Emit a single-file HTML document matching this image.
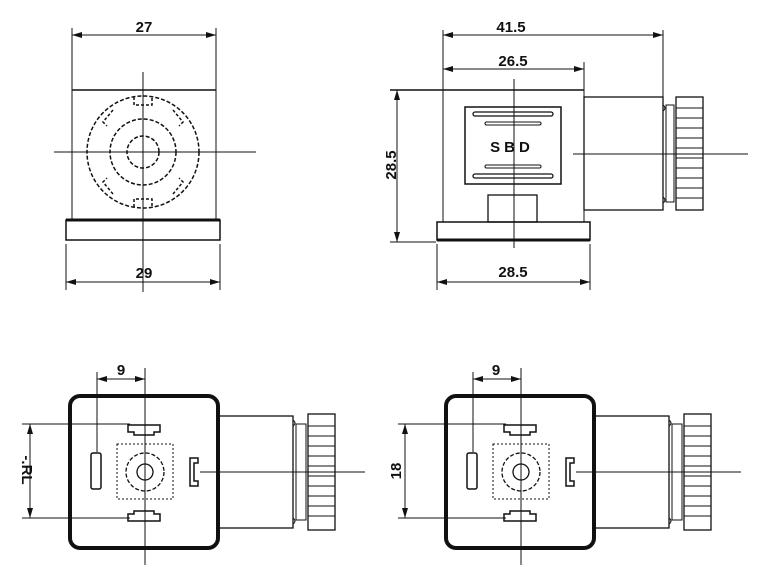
<!DOCTYPE html>
<html><head><meta charset="utf-8"><style>html,body{margin:0;padding:0;background:#fff}svg{display:block}</style></head><body>
<svg width="760" height="573" viewBox="0 0 760 573" xmlns="http://www.w3.org/2000/svg" font-family="Liberation Sans, sans-serif" font-weight="bold" fill="none" stroke="#111">
<defs>
<marker id="a" viewBox="0 0 10 6" refX="10" refY="3" markerWidth="10" markerHeight="6" orient="auto-start-reverse" markerUnits="userSpaceOnUse"><path d="M0,0 L10,3 L0,6z" fill="#111" stroke="none"/></marker>
<g id="bot">
  <rect x="70" y="396" width="148" height="152" rx="10" stroke-width="4"/>
  <rect x="218" y="416" width="75" height="112" stroke-width="1.3"/>
  <path d="M293,420 q4,3 0,6 M293,518 q4,3 0,6" stroke-width="1"/>
  <rect x="296" y="424" width="10" height="96" stroke-width="1"/>
  <rect x="308" y="414" width="27" height="116" stroke-width="1.3"/>
  <path d="M308,426h27M308,436h27M308,446h27M308,456h27M308,466h27M308,476h27M308,486h27M308,496h27M308,506h27M308,516h27" stroke-width="1"/>
  <line x1="200" y1="472" x2="365" y2="472" stroke-width="1"/>
  <line x1="145" y1="368" x2="145" y2="565" stroke-width="1"/>
  <line x1="97" y1="372" x2="97" y2="452" stroke-width="1"/>
  <line x1="97" y1="379" x2="145" y2="379" stroke-width="1" marker-start="url(#a)" marker-end="url(#a)"/>
  <rect x="91" y="453" width="10" height="36" rx="2" stroke-width="1.5"/>
  <path d="M128,425 h32 v7 h-6 v3 h-20 v-3 h-6z" stroke-width="1.5"/>
  <path d="M128,521 h32 v-7 h-6 v-3 h-20 v3 h-6z" stroke-width="1.5"/>
  <path d="M190,458 v28 h8 v-5 h-4 v-18 h4 v-5z" stroke-width="1.5"/>
  <rect x="117" y="444" width="56" height="55" stroke-width="1" stroke-dasharray="2,2"/>
  <circle cx="145" cy="472" r="19" stroke-width="1.3" stroke-dasharray="4,2"/>
  <circle cx="145" cy="472" r="8" stroke-width="1.3"/>
  <line x1="22" y1="424" x2="130" y2="424" stroke-width="1"/>
  <line x1="22" y1="518" x2="130" y2="518" stroke-width="1"/>
</g>
</defs>
<!-- top left -->
<g stroke-width="1">
<line x1="72" y1="28" x2="72" y2="220"/><line x1="216" y1="28" x2="216" y2="220"/>
<line x1="72" y1="35" x2="216" y2="35" marker-start="url(#a)" marker-end="url(#a)"/>
<line x1="72" y1="90" x2="216" y2="90" stroke-width="1.5"/>
<line x1="54" y1="152" x2="256" y2="152"/>
<line x1="143" y1="72" x2="143" y2="292"/>
<circle cx="143" cy="152" r="56" stroke-width="1.5" stroke-dasharray="4,2"/>
<circle cx="143" cy="152" r="33" stroke-width="1.5" stroke-dasharray="4,2"/>
<circle cx="143" cy="152" r="16" stroke-width="1.5" stroke-dasharray="4,2"/>
<path d="M134,97 v8 h18 v-8 M134,207 v-8 h18 v8" stroke-width="1.5" stroke-dasharray="3,2"/>
<path d="M113,110 l-10,12 l4,4 M173,110 l10,12 l-4,4 M113,194 l-10,-12 l4,-4 M173,194 l10,-12 l-4,-4" stroke-width="1.5" stroke-dasharray="3,2"/>
<line x1="66" y1="220" x2="220" y2="220" stroke-width="3"/>
<rect x="66" y="220" width="154" height="20" stroke-width="1.5"/>
<line x1="66" y1="244" x2="66" y2="290"/><line x1="220" y1="244" x2="220" y2="290"/>
<line x1="66" y1="282" x2="220" y2="282" marker-start="url(#a)" marker-end="url(#a)"/>
</g>
<g fill="#111" stroke="none" font-size="15" text-anchor="middle">
<text x="144" y="32">27</text><text x="144" y="278">29</text>
<text x="511" y="32">41.5</text><text x="513" y="66">26.5</text><text x="513" y="277">28.5</text>
<text x="512" y="152" font-size="15" letter-spacing="4">SBD</text>
<text transform="translate(396,165) rotate(-90)">28.5</text>
<text x="121" y="375">9</text><text x="496" y="375">9</text>
<text transform="translate(22,470) rotate(90)">-.RL</text>
<text transform="translate(401,471) rotate(-90)">18</text>
</g>
<!-- top right -->
<g stroke-width="1">
<line x1="443" y1="30" x2="443" y2="222"/><line x1="663" y1="30" x2="663" y2="98"/>
<line x1="443" y1="35" x2="663" y2="35" marker-start="url(#a)" marker-end="url(#a)"/>
<line x1="584" y1="62" x2="584" y2="222"/>
<line x1="443" y1="69" x2="584" y2="69" marker-start="url(#a)" marker-end="url(#a)"/>
<line x1="390" y1="90" x2="584" y2="90" stroke-width="1.5"/>
<line x1="390" y1="242" x2="436" y2="242"/>
<line x1="397" y1="90" x2="397" y2="242" marker-start="url(#a)" marker-end="url(#a)"/>
<rect x="465" y="107" width="96" height="77" stroke-width="1.5"/>
<rect x="473" y="112" width="80" height="4" rx="2" stroke-width="1.3"/>
<rect x="485" y="122" width="56" height="3" rx="1.5"/>
<rect x="485" y="165" width="56" height="3" rx="1.5"/>
<rect x="473" y="174" width="80" height="4" rx="2" stroke-width="1.3"/>
<rect x="488" y="195" width="49" height="27" stroke-width="1.3"/>
<rect x="584" y="97" width="79" height="113" stroke-width="1.3"/>
<path d="M663,105 q4,3 0,6 M663,197 q4,3 0,6"/>
<rect x="666" y="105" width="8" height="97"/>
<rect x="676" y="97" width="27" height="113" stroke-width="1.3"/>
<path d="M676,108h27M676,118h27M676,128h27M676,138h27M676,148h27M676,158h27M676,168h27M676,178h27M676,188h27M676,198h27"/>
<rect x="437" y="222" width="153" height="18" stroke-width="1.5"/>
<line x1="437" y1="240" x2="590" y2="240" stroke-width="3"/>
<line x1="573" y1="154" x2="748" y2="154"/>
<line x1="514" y1="79" x2="514" y2="248"/>
<line x1="437" y1="244" x2="437" y2="290"/><line x1="590" y1="244" x2="590" y2="290"/>
<line x1="437" y1="282" x2="590" y2="282" marker-start="url(#a)" marker-end="url(#a)"/>
</g>
<!-- bottom -->
<use href="#bot"/>
<use href="#bot" transform="translate(376,0)"/>
<line x1="30" y1="424" x2="30" y2="518" stroke-width="1" marker-start="url(#a)" marker-end="url(#a)"/>
<line x1="405" y1="424" x2="405" y2="518" stroke-width="1" marker-start="url(#a)" marker-end="url(#a)"/>
</svg>
</body></html>
